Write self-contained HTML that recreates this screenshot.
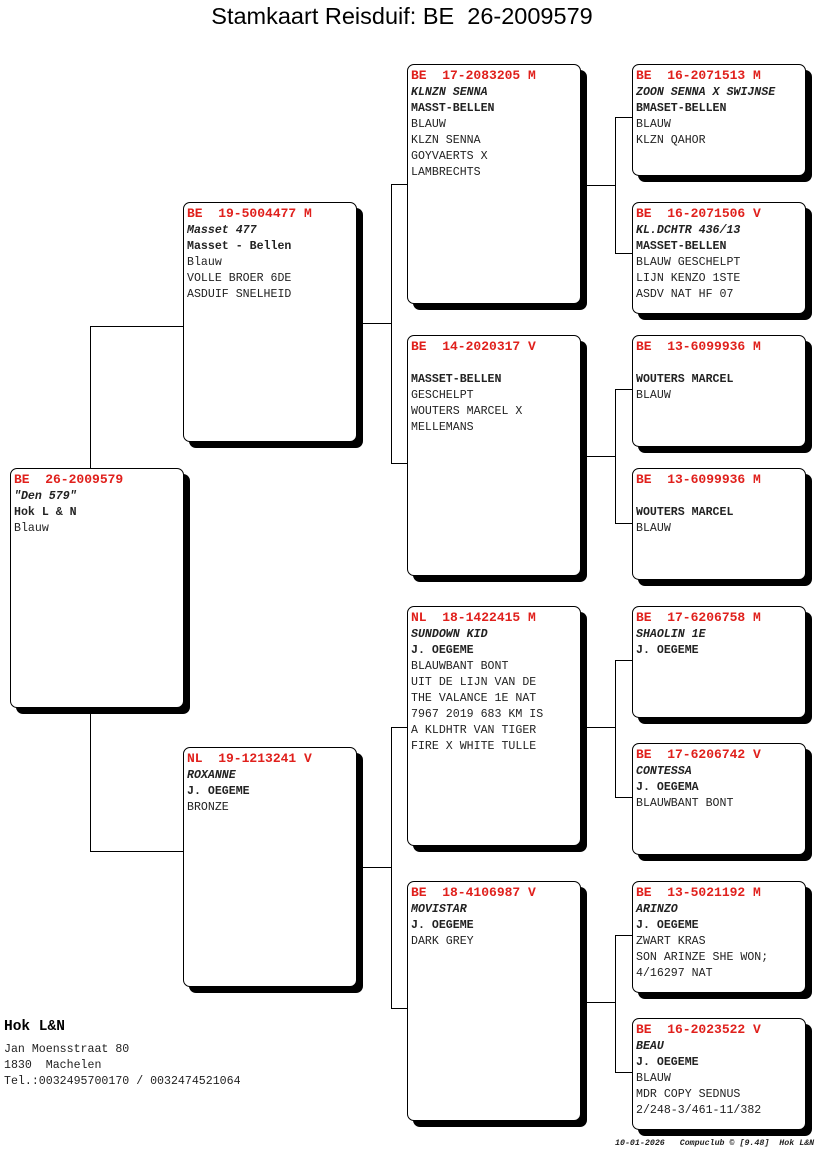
<!DOCTYPE html>
<html><head><meta charset="utf-8"><style>
body{margin:0;background:#fff;width:816px;height:1172px;position:relative;overflow:hidden;font-family:"Liberation Mono",monospace;}
.b{position:absolute;width:174px;border:1px solid #000;border-radius:7px;background:#fff;box-shadow:6px 6px 0 #000;box-sizing:border-box;padding:3px 0 0 3px;font-size:11.6px;line-height:16px;color:#222;white-space:pre;}
.b .h{color:#e0201c;font-weight:bold;font-size:13px;}
.b i{font-style:italic;font-weight:bold;}
.b b{font-weight:bold;}
.l{position:absolute;background:#000;}
</style></head><body>
<div style="position:absolute;left:0;width:804px;top:3px;text-align:center;font-family:'Liberation Sans',sans-serif;font-size:23.5px;white-space:pre;">Stamkaart Reisduif: BE  26-2009579</div>

<!-- connectors -->
<div class="l" style="left:90px;top:326px;width:1px;height:142px"></div>
<div class="l" style="left:90px;top:326px;width:93px;height:1px"></div>
<div class="l" style="left:90px;top:708px;width:1px;height:143px"></div>
<div class="l" style="left:90px;top:851px;width:93px;height:1px"></div>

<div class="l" style="left:357px;top:323px;width:34px;height:1px"></div>
<div class="l" style="left:391px;top:184px;width:1px;height:280px"></div>
<div class="l" style="left:391px;top:184px;width:16px;height:1px"></div>
<div class="l" style="left:391px;top:463px;width:16px;height:1px"></div>
<div class="l" style="left:357px;top:867px;width:34px;height:1px"></div>
<div class="l" style="left:391px;top:727px;width:1px;height:282px"></div>
<div class="l" style="left:391px;top:727px;width:16px;height:1px"></div>
<div class="l" style="left:391px;top:1008px;width:16px;height:1px"></div>

<div class="l" style="left:581px;top:185px;width:34px;height:1px"></div>
<div class="l" style="left:615px;top:117px;width:1px;height:137px"></div>
<div class="l" style="left:615px;top:117px;width:17px;height:1px"></div>
<div class="l" style="left:615px;top:253px;width:17px;height:1px"></div>
<div class="l" style="left:581px;top:456px;width:34px;height:1px"></div>
<div class="l" style="left:615px;top:389px;width:1px;height:135px"></div>
<div class="l" style="left:615px;top:389px;width:17px;height:1px"></div>
<div class="l" style="left:615px;top:523px;width:17px;height:1px"></div>
<div class="l" style="left:581px;top:727px;width:34px;height:1px"></div>
<div class="l" style="left:615px;top:660px;width:1px;height:138px"></div>
<div class="l" style="left:615px;top:660px;width:17px;height:1px"></div>
<div class="l" style="left:615px;top:797px;width:17px;height:1px"></div>
<div class="l" style="left:581px;top:1002px;width:34px;height:1px"></div>
<div class="l" style="left:615px;top:935px;width:1px;height:138px"></div>
<div class="l" style="left:615px;top:935px;width:17px;height:1px"></div>
<div class="l" style="left:615px;top:1072px;width:17px;height:1px"></div>

<div class="b" style="left:10px;top:468px;height:240px"><span class="h">BE  26-2009579</span>
<i>"Den 579"</i>
<b>Hok L &amp; N</b>
Blauw</div>

<div class="b" style="left:183px;top:202px;height:240px"><span class="h">BE  19-5004477 M</span>
<i>Masset 477</i>
<b>Masset - Bellen</b>
Blauw
VOLLE BROER 6DE
ASDUIF SNELHEID</div>
<div class="b" style="left:183px;top:747px;height:240px"><span class="h">NL  19-1213241 V</span>
<i>ROXANNE</i>
<b>J. OEGEME</b>
BRONZE</div>

<div class="b" style="left:407px;top:64px;height:240px"><span class="h">BE  17-2083205 M</span>
<i>KLNZN SENNA</i>
<b>MASST-BELLEN</b>
BLAUW
KLZN SENNA
GOYVAERTS X
LAMBRECHTS</div>
<div class="b" style="left:407px;top:335px;height:241px"><span class="h">BE  14-2020317 V</span>

<b>MASSET-BELLEN</b>
GESCHELPT
WOUTERS MARCEL X
MELLEMANS</div>
<div class="b" style="left:407px;top:606px;height:240px"><span class="h">NL  18-1422415 M</span>
<i>SUNDOWN KID</i>
<b>J. OEGEME</b>
BLAUWBANT BONT
UIT DE LIJN VAN DE
THE VALANCE 1E NAT
7967 2019 683 KM IS
A KLDHTR VAN TIGER
FIRE X WHITE TULLE</div>
<div class="b" style="left:407px;top:881px;height:240px"><span class="h">BE  18-4106987 V</span>
<i>MOVISTAR</i>
<b>J. OEGEME</b>
DARK GREY</div>

<div class="b" style="left:632px;top:64px;height:112px"><span class="h">BE  16-2071513 M</span>
<i>ZOON SENNA X SWIJNSE</i>
<b>BMASET-BELLEN</b>
BLAUW
KLZN QAHOR</div>
<div class="b" style="left:632px;top:202px;height:112px"><span class="h">BE  16-2071506 V</span>
<i>KL.DCHTR 436/13</i>
<b>MASSET-BELLEN</b>
BLAUW GESCHELPT
LIJN KENZO 1STE
ASDV NAT HF 07</div>
<div class="b" style="left:632px;top:335px;height:112px"><span class="h">BE  13-6099936 M</span>

<b>WOUTERS MARCEL</b>
BLAUW</div>
<div class="b" style="left:632px;top:468px;height:112px"><span class="h">BE  13-6099936 M</span>

<b>WOUTERS MARCEL</b>
BLAUW</div>
<div class="b" style="left:632px;top:606px;height:112px"><span class="h">BE  17-6206758 M</span>
<i>SHAOLIN 1E</i>
<b>J. OEGEME</b></div>
<div class="b" style="left:632px;top:743px;height:112px"><span class="h">BE  17-6206742 V</span>
<i>CONTESSA</i>
<b>J. OEGEMA</b>
BLAUWBANT BONT</div>
<div class="b" style="left:632px;top:881px;height:112px"><span class="h">BE  13-5021192 M</span>
<i>ARINZO</i>
<b>J. OEGEME</b>
ZWART KRAS
SON ARINZE SHE WON;
4/16297 NAT</div>
<div class="b" style="left:632px;top:1018px;height:112px"><span class="h">BE  16-2023522 V</span>
<i>BEAU</i>
<b>J. OEGEME</b>
BLAUW
MDR COPY SEDNUS
2/248-3/461-11/382</div>

<div style="position:absolute;left:4px;top:1019px;font-size:14.5px;font-weight:bold;">Hok L&amp;N</div>
<div style="position:absolute;left:4px;top:1042px;font-size:11.6px;line-height:16px;white-space:pre;color:#222">Jan Moensstraat 80
1830  Machelen
Tel.:0032495700170 / 0032474521064</div>
<div style="position:absolute;left:615px;top:1139px;font-size:8.3px;font-style:italic;font-weight:bold;white-space:pre;color:#222">10-01-2026   Compuclub © [9.48]  Hok L&amp;N</div>
</body></html>
